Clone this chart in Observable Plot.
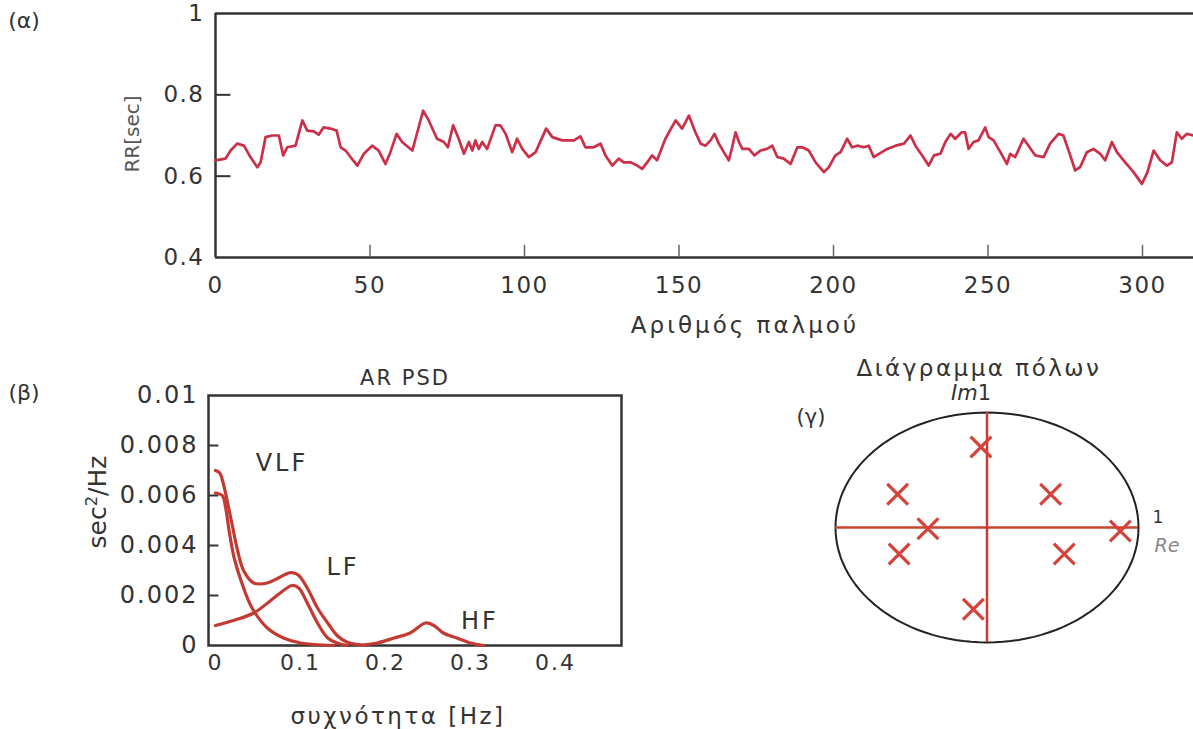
<!DOCTYPE html>
<html><head><meta charset="utf-8">
<script src="https://cdn.jsdelivr.net/npm/d3@7"></script>
<script src="https://cdn.jsdelivr.net/npm/@observablehq/plot@0.6"></script>
<style>
body{margin:0;background:#fff;font-family:"DejaVu Sans",sans-serif;color:#333}
#root{position:relative;width:1193px;height:729px;overflow:hidden;background:#fff}
.panel{position:absolute}
.lbl{position:absolute;white-space:nowrap;font-size:21px;color:#333;transform:translate(-50%,-50%);line-height:1}
.rot{transform:translate(-50%,-50%) rotate(-90deg)}
</style></head><body><div id="root"></div>
<script>
// ---- Panel (α): RR series ----
const beat = [0,3.2,4.9,7.0,9.2,11.3,13.5,14.6,16.2,18.3,20.5,21.9,23.2,25.9,28.1,29.7,31.8,33.4,35.0,37.2,39.2,40.5,42.1,43.7,45.9,48.0,50.7,52.8,55.0,56.6,58.6,60.4,63.7,65.3,67.2,69.0,71.7,73.9,75.2,76.9,78.7,80.4,82.0,83.1,84.1,85.2,86.3,87.9,90.6,92.2,93.9,96.0,97.6,99.3,101.4,103.6,107.0,109.0,112.2,116.0,118.1,119.7,122.4,124.6,126.2,128.4,130.5,132.1,134.3,136.5,138.1,139.7,141.3,142.9,145.6,148.9,151.0,153.2,155.3,157.0,158.6,160.2,161.5,162.9,164.5,166.1,167.2,168.3,169.4,170.5,172.6,174.4,176.4,178.5,180.2,181.8,183.9,186.1,188.3,189.9,192.0,194.2,196.9,198.5,200.6,202.3,204.4,206.0,207.7,209.8,211.4,213.0,214.7,217.4,220.1,222.8,224.9,226.5,228.7,230.8,232.5,234.6,236.2,237.9,239.4,241.5,242.6,243.7,245.3,246.9,248.3,249.1,250.2,251.8,254.0,256.1,257.2,258.8,261.5,263.1,265.3,268.0,270.1,272.8,274.4,276.6,278.2,279.8,282.0,284.1,286.3,287.9,290.1,291.7,294.4,297.1,299.8,301.6,303.6,305.7,307.9,309.5,311.1,312.7,314.3,316.5];
const rr = [0.639,0.643,0.663,0.680,0.675,0.647,0.622,0.634,0.696,0.700,0.700,0.651,0.671,0.675,0.737,0.712,0.710,0.702,0.720,0.717,0.712,0.671,0.663,0.647,0.626,0.655,0.675,0.663,0.630,0.659,0.704,0.684,0.663,0.708,0.761,0.737,0.692,0.684,0.671,0.725,0.692,0.655,0.684,0.663,0.688,0.667,0.684,0.667,0.725,0.725,0.704,0.659,0.692,0.667,0.647,0.659,0.717,0.696,0.688,0.688,0.698,0.671,0.671,0.680,0.651,0.626,0.643,0.634,0.634,0.626,0.618,0.634,0.651,0.639,0.692,0.737,0.717,0.749,0.708,0.680,0.675,0.688,0.704,0.680,0.659,0.639,0.671,0.708,0.684,0.667,0.667,0.651,0.663,0.667,0.675,0.647,0.643,0.630,0.671,0.671,0.663,0.634,0.610,0.622,0.651,0.659,0.692,0.671,0.675,0.671,0.675,0.647,0.655,0.667,0.675,0.680,0.700,0.675,0.651,0.626,0.651,0.655,0.684,0.704,0.692,0.708,0.708,0.667,0.684,0.688,0.708,0.720,0.696,0.688,0.659,0.630,0.655,0.647,0.692,0.675,0.651,0.647,0.680,0.704,0.700,0.651,0.614,0.622,0.659,0.667,0.655,0.639,0.684,0.659,0.634,0.610,0.581,0.610,0.663,0.639,0.626,0.634,0.708,0.692,0.704,0.700];
const rrXTicks = [0,50,100,150,200,250,300];
const rrYTicks = [0.4,0.6,0.8,1];

// ---- Panel (β): AR PSD ----
const totalF = [0,0.005,0.009,0.018,0.026,0.033,0.045,0.061,0.074,0.086,0.092,0.098,0.108,0.12,0.132,0.143,0.155,0.17,0.19,0.21,0.229,0.247,0.257,0.268,0.284,0.30,0.315];
const totalP = [0.0070,0.0069,0.0065,0.0051,0.0038,0.0030,0.0025,0.0025,0.0027,0.0029,0.0029,0.0028,0.0023,0.0015,0.0009,0.0004,0.00013,0.00003,0.0001,0.0003,0.0005,0.0009,0.0008,0.0005,0.0003,0.0001,0];
const vlfF = [0,0.008,0.012,0.016,0.022,0.031,0.043,0.061,0.080,0.10,0.139];
const vlfP = [0.0061,0.0060,0.0055,0.0046,0.0035,0.0025,0.0015,0.0007,0.0003,0.0001,0];
const lfF = [0,0.021,0.045,0.065,0.08,0.09,0.098,0.108,0.12,0.132,0.143,0.155];
const lfP = [0.0008,0.0010,0.0013,0.0018,0.0022,0.0024,0.0023,0.0017,0.0009,0.0003,0.0001,0];
const psdXTicks = [0,0.1,0.2,0.3,0.4];
const psdYTicks = [0,0.002,0.004,0.006,0.008,0.01];

// ---- Panel (γ): poles ----
const poleRe = [-0.04,-0.09,-0.59,-0.58,-0.39,0.42,0.51,0.88];
const poleIm = [0.70,-0.71,0.29,-0.23,-0.01,0.29,-0.23,-0.03];

const root = document.getElementById("root");
const FONT = "DejaVu Sans, sans-serif";
function place(el, left, topPx){ const d=document.createElement("div"); d.className="panel"; d.style.left=left+"px"; d.style.top=topPx+"px"; d.appendChild(el); root.appendChild(d); }
function label(text, x, y, opts={}){ const d=document.createElement("div"); d.className="lbl"+(opts.rot?" rot":""); d.innerHTML=text; d.style.left=x+"px"; d.style.top=y+"px"; if(opts.size) d.style.fontSize=opts.size+"px"; if(opts.color) d.style.color=opts.color; if(opts.ls) d.style.letterSpacing=opts.ls+"px"; root.appendChild(d); }

const rrData = beat.map((b,i)=>({beat:b, rr:rr[i]}));
const rrChart = Plot.plot({
  width:1193, height:300, marginLeft:215, marginRight:0, marginTop:13, marginBottom:43,
  x:{domain:[0,316.5], label:null},
  y:{domain:[0.4,1], label:null},
  style:{fontFamily:FONT, fontSize:"23px", letterSpacing:"1.5px", color:"#333", background:"transparent", overflow:"visible"},
  marks:[
    Plot.axisX(rrXTicks,{tickSize:0, tickPadding:19, fill:"#333"}),
    Plot.axisY(rrYTicks,{tickSize:0, tickPadding:11, tickFormat:d=>String(d), fill:"#333"}),
    Plot.ruleY([0.4,1],{stroke:"#333", strokeWidth:2.5}),
    Plot.ruleX([0],{stroke:"#333", strokeWidth:2.5}),
    Plot.ruleY([0.6,0.8],{x1:0, x2:5, stroke:"#333", strokeWidth:2}),
    Plot.ruleX(rrXTicks.slice(1),{y1:0.4, y2:0.43, stroke:"#666", strokeWidth:1.5}),
    Plot.line(rrData,{x:"beat", y:"rr", stroke:"#cc2f48", strokeWidth:2.7})
  ]
});
place(rrChart, 0, 0);

const psdSeries = [
  ...totalF.map((f,i)=>({f, p:totalP[i], s:"total"})),
  ...vlfF.map((f,i)=>({f, p:vlfP[i], s:"vlf"})),
  ...lfF.map((f,i)=>({f, p:lfP[i], s:"lf"}))
];
const psdChart = Plot.plot({
  width:640, height:369, marginLeft:208, marginRight:19, marginTop:35, marginBottom:84,
  x:{domain:[-0.0082,0.4776], label:null},
  y:{domain:[0,0.01], label:null},
  style:{fontFamily:FONT, fontSize:"24px", letterSpacing:"2px", color:"#333", background:"transparent", overflow:"visible"},
  marks:[
    Plot.axisX(psdXTicks,{tickSize:0, tickPadding:9, fontSize:22, tickFormat:d=>String(d), fill:"#333"}),
    Plot.axisY(psdYTicks,{tickSize:0, tickPadding:10, tickFormat:d=>String(d), fill:"#333"}),
    Plot.frame({stroke:"#333", strokeWidth:2.5}),
    Plot.ruleY([0.002,0.004,0.006,0.008],{x1:-0.0082, x2:0.004, stroke:"#333", strokeWidth:2}),
    Plot.line(psdSeries,{x:"f", y:"p", z:"s", stroke:"#c43a32", strokeWidth:3.2, curve:"catmull-rom"})
  ]
});
place(psdChart, 0, 360);

const circle = d3.range(0, 361, 3).map(a => ({x:Math.cos(a*Math.PI/180), y:Math.sin(a*Math.PI/180)}));
const poles = poleRe.map((r,i)=>({re:r, im:poleIm[i]}));
const poleChart = Plot.plot({
  width:413, height:379, marginLeft:55, marginRight:55, marginTop:62, marginBottom:87,
  x:{domain:[-1,1], axis:null}, y:{domain:[-1,1], axis:null},
  style:{background:"transparent", overflow:"visible"},
  marks:[
    Plot.line(circle,{x:"x", y:"y", stroke:"#222", strokeWidth:2}),
    Plot.ruleY([0],{x1:-1, x2:1, stroke:"#c8452f", strokeWidth:2.5}),
    Plot.ruleX([0],{y1:-1, y2:1, stroke:"#cc3a36", strokeWidth:2.5}),
    Plot.dot(poles,{x:"re", y:"im", symbol:"times", r:9.5, stroke:"#d6423a", strokeWidth:3.2})
  ]
});
place(poleChart, 780, 350);

// Text labels
label("(α)", 24, 21, {size:22});
label("RR[sec]", 132, 134, {rot:true, size:20, color:"#555"});
label("Αριθμός παλμού", 745, 325, {size:23, ls:3});
label("(β)", 24, 393, {size:22});
label("AR PSD", 405, 378, {size:21, ls:2});
label("sec<sup style='font-size:0.65em'>2</sup>/Hz", 97, 502, {rot:true, size:25});
label("συχνότητα [Hz]", 398, 716, {size:23, ls:2.5});
label("VLF", 282, 463, {size:24, ls:3});
label("LF", 343, 567, {size:24, ls:3});
label("HF", 480, 621, {size:24, ls:3});
label("Διάγραμμα πόλων", 979, 368, {size:23, ls:2.5});
label("<i>Im</i>1", 971, 393, {size:21});
label("(γ)", 811, 417, {size:21});
label("1", 1158, 517, {size:17});
label("<i>Re</i>", 1167, 545, {size:19, color:"#888"});
</script>
</body></html>
